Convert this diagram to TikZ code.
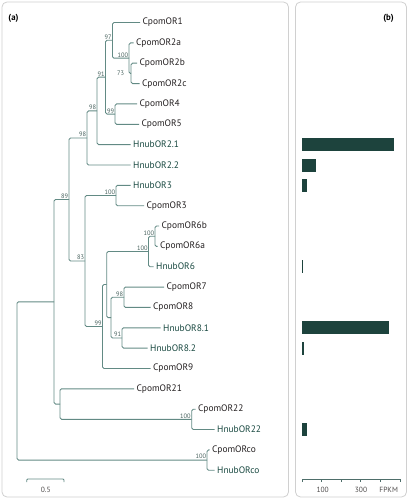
\documentclass[tikz,border=0pt]{standalone}
\usepackage{fontspec}
\setmainfont{PT Sans}
\usepackage{tikz}

\definecolor{branch}{RGB}{98,138,132}
\definecolor{hnub}{RGB}{24,72,64}
\definecolor{cpom}{RGB}{35,31,32}
\definecolor{bargreen}{RGB}{29,67,61}
\definecolor{bootgray}{RGB}{70,96,92}
\definecolor{panelgray}{RGB}{208,208,208}

\tikzset{
  tree/.style={draw=branch,line width=0.9pt,rounded corners=1.5pt},
  leaf/.style={anchor=west,inner xsep=2.5pt,inner ysep=0pt,font=\fontsize{9.4}{11}\selectfont,text=cpom},
  hleaf/.style={leaf,text=hnub},
  boot/.style={font=\fontsize{6.4}{7}\selectfont,text=bootgray,inner sep=0.8pt},
  panel/.style={draw=panelgray,line width=0.8pt,rounded corners=5pt},
  fpkm/.style={fill=bargreen},
  axislab/.style={font=\fontsize{7.5}{9}\selectfont,text=cpom!80},
}

\begin{document}
\begin{tikzpicture}[x=1pt,y=-1pt]
\useasboundingbox (0,0) rectangle (408,500);
\draw[panel] (2,2) rectangle (288.5,497);
\draw[panel] (295.5,2) rectangle (406.5,497);
\node[font=\bfseries\fontsize{8.8}{10}\selectfont] (pa) at (13.5,18) {(a)};
\node[font=\bfseries\fontsize{8.8}{10}\selectfont] (pb) at (388.5,18) {(b)};

% leaves
\node[leaf] (or1) at (140,22.5) {CpomOR1};
\node[leaf] (or2a) at (133.5,42.9) {CpomOR2a};
\node[leaf] (or2b) at (137,63.2) {CpomOR2b};
\node[leaf] (or2c) at (139.5,83.6) {CpomOR2c};
\node[leaf] (or4) at (137,103.9) {CpomOR4};
\node[leaf] (or5) at (139,124.3) {CpomOR5};
\node[hleaf] (h21) at (130.5,144.6) {HnubOR2.1};
\node[hleaf] (h22) at (130.5,165.0) {HnubOR2.2};
\node[hleaf] (h3) at (130.5,185.3) {HnubOR3};
\node[leaf] (or3) at (144,205.7) {CpomOR3};
\node[leaf] (or6b) at (159,226.0) {CpomOR6b};
\node[leaf] (or6a) at (157.5,246.4) {CpomOR6a};
\node[hleaf] (h6) at (153.5,266.7) {HnubOR6};
\node[leaf] (or7) at (164,287.1) {CpomOR7};
\node[leaf] (or8) at (150.5,307.4) {CpomOR8};
\node[hleaf] (h81) at (160.5,327.8) {HnubOR8.1};
\node[hleaf] (h82) at (147.5,348.1) {HnubOR8.2};
\node[leaf] (or9) at (150.5,368.5) {CpomOR9};
\node[leaf] (or21) at (134,388.8) {CpomOR21};
\node[leaf] (or22) at (195.5,409.2) {CpomOR22};
\node[hleaf] (h22b) at (214.5,429.5) {HnubOR22};
\node[leaf] (orco) at (209.5,449.9) {CpomORco};
\node[hleaf] (hco) at (214.5,470.2) {HnubORco};

% inner nodes with bootstrap values
\coordinate (root) at (17,380.9);
\coordinate (nA) at (54,301.8);
\coordinate[label={[boot]above left:89}] (n89) at (69,199.5);
\coordinate[label={[boot]above left:98}] (n98a) at (87,137.95);
\coordinate[label={[boot]above left:98}] (n98b) at (97,110.9);
\coordinate[label={[boot]above left:91}] (n91) at (105.5,77.2);
\coordinate[label={[boot]above left:97}] (n97) at (112.5,40.3);
\coordinate[label={[boot]above left:100}] (n100a) at (129,58.15);
\coordinate[label={[boot,label distance=6pt]left:73}] (n73) at (131,73.4);
\coordinate[label={[boot]above left:99}] (n99a) at (115,114.1);
\coordinate[label={[boot]above left:83}] (n83) at (85,261);
\coordinate[label={[boot]above left:100}] (n100b) at (116,195.5);
\coordinate[label={[boot]above left:99}] (n99b) at (102.5,326.5);
\coordinate (nC) at (106.7,284.5);
\coordinate[label={[boot]above left:100}] (n100c) at (148.5,251.45);
\coordinate[label={[boot]above left:100}] (n100d) at (155,236.2);
\coordinate (nD) at (111,317.6);
\coordinate[label={[boot]above left:98}] (n98c) at (124,297.25);
\coordinate[label={[boot]above left:91}] (n91b) at (122,337.95);
\coordinate (n21) at (60,404.1);
\coordinate[label={[boot]above left:100}] (n100e) at (191.7,419.35);
\coordinate[label={[boot]above left:100}] (nco) at (207,460.05);

% branches
\draw[tree] (root) |- (nA) (root) |- (nco);
\draw[tree] (nA) |- (n89) (nA) |- (n21);
\draw[tree] (n89) |- (n98a) (n89) |- (n83);
\draw[tree] (n98a) |- (n98b) (n98a) |- (h22.west);
\draw[tree] (n98b) |- (n91) (n98b) |- (h21.west);
\draw[tree] (n91) |- (n97) (n91) |- (n99a);
\draw[tree] (n97) |- (or1.west) (n97) |- (n100a);
\draw[tree] (n100a) |- (or2a.west) (n100a) |- (n73);
\draw[tree] (n73) |- (or2b.west) (n73) |- (or2c.west);
\draw[tree] (n99a) |- (or4.west) (n99a) |- (or5.west);
\draw[tree] (n83) |- (n100b) (n83) |- (n99b);
\draw[tree] (n100b) |- (h3.west) (n100b) |- (or3.west);
\draw[tree] (n99b) |- (nC) (n99b) |- (or9.west);
\draw[tree] (nC) |- (n100c) (nC) |- (nD);
\draw[tree] (n100c) |- (n100d) (n100c) |- (h6.west);
\draw[tree] (n100d) |- (or6b.west) (n100d) |- (or6a.west);
\draw[tree] (nD) |- (n98c) (nD) |- (n91b);
\draw[tree] (n98c) |- (or7.west) (n98c) |- (or8.west);
\draw[tree] (n91b) |- (h81.west) (n91b) |- (h82.west);
\draw[tree] (n21) |- (or21.west) (n21) |- (n100e);
\draw[tree] (n100e) |- (or22.west) (n100e) |- (h22b.west);
\draw[tree] (nco) |- (orco.west) (nco) |- (hco.west);

% scale bar
\draw[tree,line width=0.8pt,rounded corners=1pt] (26.7,482) -- (26.7,479) -- (64,479) -- (64,482);
\node[axislab] (sbar) at (45.7,489.5) {0.5};

% expression bars
\fill[fpkm] (302.3,138.1) rectangle (394.3,151.1);
\fill[fpkm] (302.3,158.5) rectangle (316,171.5);
\fill[fpkm] (302.3,178.8) rectangle (306.7,191.8);
\fill[fpkm] (302.3,260.2) rectangle (303.3,273.2);
\fill[fpkm] (302.3,321.3) rectangle (389.3,334.3);
\fill[fpkm] (302.3,341.6) rectangle (304.3,354.6);
\fill[fpkm] (302.3,423) rectangle (307.3,436);

% FPKM axis
\draw[draw=branch!80!black,line width=0.7pt] (302.3,482) -- (302.3,479) -- (400,479) -- (400,482)
  (321.7,479) -- (321.7,482) (341,479) -- (341,482) (360.3,479) -- (360.3,482) (380,479) -- (380,482);
\node[axislab] (t100) at (322.7,489.5) {100};
\node[axislab] (t300) at (361,489.5) {300};
\node[axislab] (tunit) at (388.7,489.5) {FPKM};
\end{tikzpicture}
\end{document}
